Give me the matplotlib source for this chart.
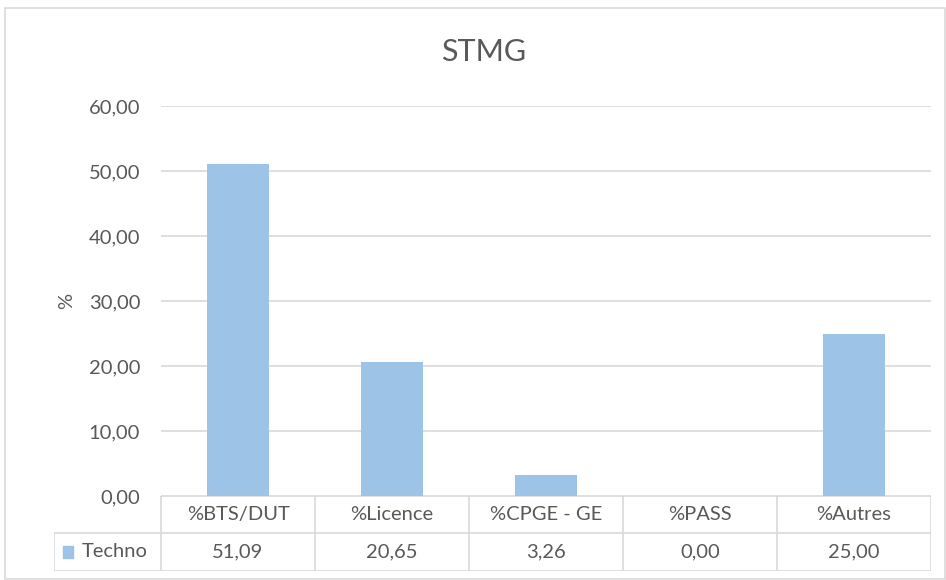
import matplotlib
matplotlib.use("Agg")
import matplotlib.pyplot as plt
from matplotlib.patches import Rectangle
from matplotlib.lines import Line2D

categories = ["%BTS/DUT", "%Licence", "%CPGE - GE", "%PASS", "%Autres"]
series_name = "Techno"
values = [51.09, 20.65, 3.26, 0.00, 25.00]
yticks = [0, 10, 20, 30, 40, 50, 60]
title = "STMG"
ylabel = "%"

W, H = 946, 580
plt.rcParams['font.family'] = ['Lato', 'DejaVu Sans']
txt = "#595959"
grid = "#D9D9D9"
bar_color = "#9DC3E6"

fig = plt.figure(figsize=(W / 100, H / 100), dpi=100)

def fx(px):
    return px / W

def fy(py):
    return 1 - py / H

# outer border
fig.patches.append(Rectangle((fx(5), fy(579)), fx(945) - fx(5), fy(8) - fy(579),
                             transform=fig.transFigure, fill=False, edgecolor=grid, lw=1.2))

left, right, top, bottom = 161, 931, 106, 496
ax = fig.add_axes([fx(left), fy(bottom), fx(right) - fx(left), fy(top) - fy(bottom)])
n = len(categories)
x = list(range(n))
ax.bar(x, values, width=0.4, color=bar_color, zorder=3)
ax.set_xlim(-0.5, n - 0.5)
ax.set_ylim(0, 60)
ax.set_yticks(yticks)
ax.set_yticklabels([f"{v:.2f}".replace(".", ",") for v in yticks], fontsize=14.5, color=txt)
ax.tick_params(axis='y', length=0, pad=15)
ax.set_xticks([])
for s in ax.spines.values():
    s.set_visible(False)
ax.yaxis.grid(True, color=grid, lw=1.2, zorder=0)
ax.set_ylabel(ylabel, fontsize=14.5, color=txt, labelpad=10)
fig.text(fx(484), fy(52), title, ha='center', va='center', fontsize=22, color=txt)

# data table
row1_top, row2_top, row2_bot = 496, 533, 571
leg_left = 54
tax = fig.add_axes([fx(leg_left), fy(row2_bot), fx(right) - fx(leg_left), fy(row1_top) - fy(row2_bot)])
tax.set_xlim(leg_left, right)
tax.set_ylim(row2_bot, row1_top)
tax.axis('off')
colw = (right - left) / n
lc = grid
lw = 1.2
tax.add_line(Line2D([left, right], [row1_top, row1_top], color=lc, lw=lw))
tax.add_line(Line2D([leg_left, right], [row2_top, row2_top], color=lc, lw=lw))
tax.add_line(Line2D([leg_left, right], [row2_bot, row2_bot], color=lc, lw=lw))
tax.add_line(Line2D([leg_left, leg_left], [row2_top, row2_bot], color=lc, lw=lw))
for i in range(n + 1):
    xx = left + i * colw
    tax.add_line(Line2D([xx, xx], [row1_top, row2_bot], color=lc, lw=lw))
for i, c in enumerate(categories):
    cx = left + (i + 0.5) * colw
    tax.text(cx, (row1_top + row2_top) / 2, c, ha='center', va='center', fontsize=14.5, color=txt)
    tax.text(cx, (row2_top + row2_bot) / 2, f"{values[i]:.2f}".replace(".", ","),
             ha='center', va='center', fontsize=14.5, color=txt)
tax.add_patch(Rectangle((63, 546), 10, 12, color=bar_color))
tax.text(82, (row2_top + row2_bot) / 2, series_name, ha='left', va='center', fontsize=14.5, color=txt)

fig.savefig("out.png", dpi=100)
